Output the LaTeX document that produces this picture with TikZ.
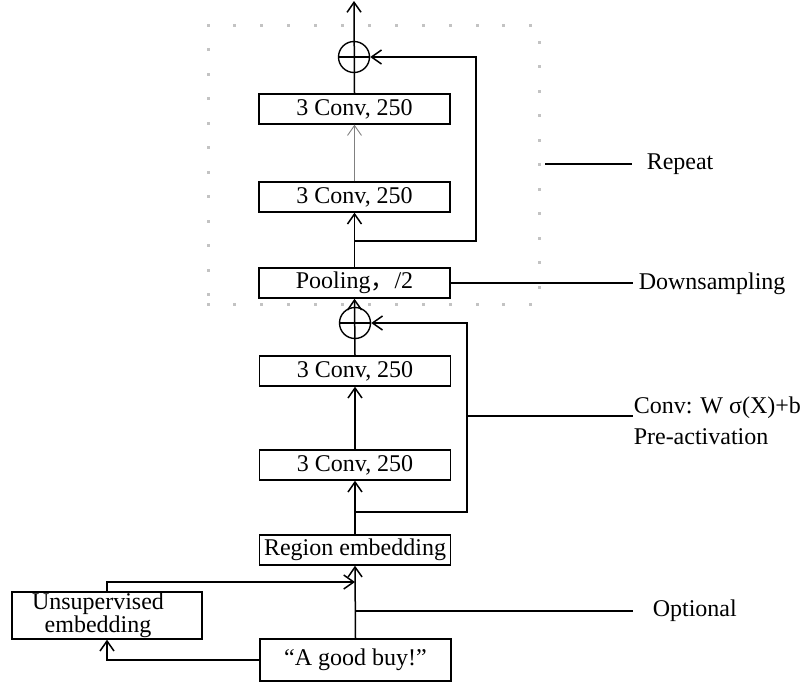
\documentclass[tikz,border=0pt]{standalone}
\usepackage{fontspec}
\setmainfont{Liberation Serif}
\newfontfamily\cjk{Noto Sans CJK SC}
\usetikzlibrary{arrows.meta}
\definecolor{dotc}{RGB}{195,195,195}
\begin{document}
\begin{tikzpicture}[x=1pt,y=-1pt,
  font=\fontsize{24}{25}\selectfont,
  line width=1.5pt,
  box/.style={draw,line width=1.4pt,minimum width=191pt,minimum height=30pt,inner sep=0pt},
  sumnode/.style={draw,circle,line width=1.4pt,minimum size=31pt,inner sep=0pt},
  arr/.style={-{Straight Barb[length=10pt,width=14pt]}},
  lbl/.style={anchor=west,inner sep=0pt}]
\useasboundingbox (0,0) rectangle (800,683);
% dotted frame
\foreach \i in {0,...,12} {
  \fill[dotc] ({208+\i*26.9-1.5},23.5) rectangle ++(3,3);
  \fill[dotc] ({208+\i*26.9-1.5},302.5) rectangle ++(3,3);
}
\foreach \j in {1,...,11} \fill[dotc] (206.5,{25+\j*24.5-1.5}) rectangle ++(3,3);
\foreach \j in {0,...,10} \fill[dotc] (537.5,{42+\j*24.5-1.5}) rectangle ++(3,3);
% nodes
\node[box] (conv1) at (354.5,109) {3 Conv, 250};
\node[box] (conv2) at (354.5,197) {3 Conv, 250};
\node[box] (pool) at (354.5,283) {Pooling{\cjk ，}/2};
\node[box] (convA) at (355,371) {3 Conv, 250};
\node[box] (convB) at (355,465) {3 Conv, 250};
\node[box] (region) at (355,550) {Region embedding};
\node[box,minimum height=42pt] (buy) at (355.5,660) {“A good buy!”};
\node[box,minimum width=190pt,minimum height=47pt] (unsup) at (107,615.5) {};
\node[align=center,inner sep=0pt,font=\fontsize{24}{21.5}\selectfont] (unsupt) at (98,615) {Unsupervised\\embedding};
\node[sumnode] (c1) at (354,57) {};
\node[sumnode] (c2) at (355,323) {};
\draw[line width=1.4pt] (c1.west) -- (c1.east);
\draw[line width=1.4pt] (c2.west) -- (c2.east);
% coordinates
\coordinate (top) at (354,1);
\coordinate (l1) at (354,241);
\coordinate (l1r) at (476,241);
\coordinate (l1t) at (476,57);
\coordinate (l2) at (355,512);
\coordinate (l2r) at (467,512);
\coordinate (l2t) at (467,323);
\coordinate (l2m) at (467,416);
\coordinate (u1) at (355,582);
\coordinate (o1) at (355,611);
% upper block
\draw[arr] (conv1.north) -- (top);
\draw[arr] (l1) -- (l1r) -- (l1t) -- (c1.east);
\draw[arr] (pool.north) -- (conv2.south);
\draw[arr,gray,line width=0.9pt] (conv2.north) -- (conv1.south);
% lower block
\draw[arr] (convA.north) -- (pool.south);
\draw[arr] (l2) -- (l2r) -- (l2t) -- (c2.east);
\draw[arr] (convB.north) -- (convA.south);
\draw[arr] (region.north) -- (convB.south);
\draw[arr] (buy.north) -- (region.south);
\draw[arr] (unsup.north) |- (u1);
\draw[arr] (buy.west) -| (unsup.south);
% labels
\coordinate (rp1) at (545,164);
\coordinate (rp2) at (632,164);
\draw (rp1) -- (rp2);
\node[lbl] (trep) at (646,164) {Repeat};
\coordinate (ds) at (633,283);
\draw (pool.east) -- (ds);
\node[lbl] (tds) at (638,284) {Downsampling};
\coordinate (cv) at (633,416);
\draw (l2m) -- (cv);
\node[lbl,anchor=base west] (tconv) at (633,413) {Conv: W σ(X)+b};
\node[lbl,anchor=base west] (tpre) at (633,444) {Pre-activation};
\coordinate (op) at (633,611);
\draw (o1) -- (op);
\node[lbl] (topt) at (652,611) {Optional};
\end{tikzpicture}
\end{document}
